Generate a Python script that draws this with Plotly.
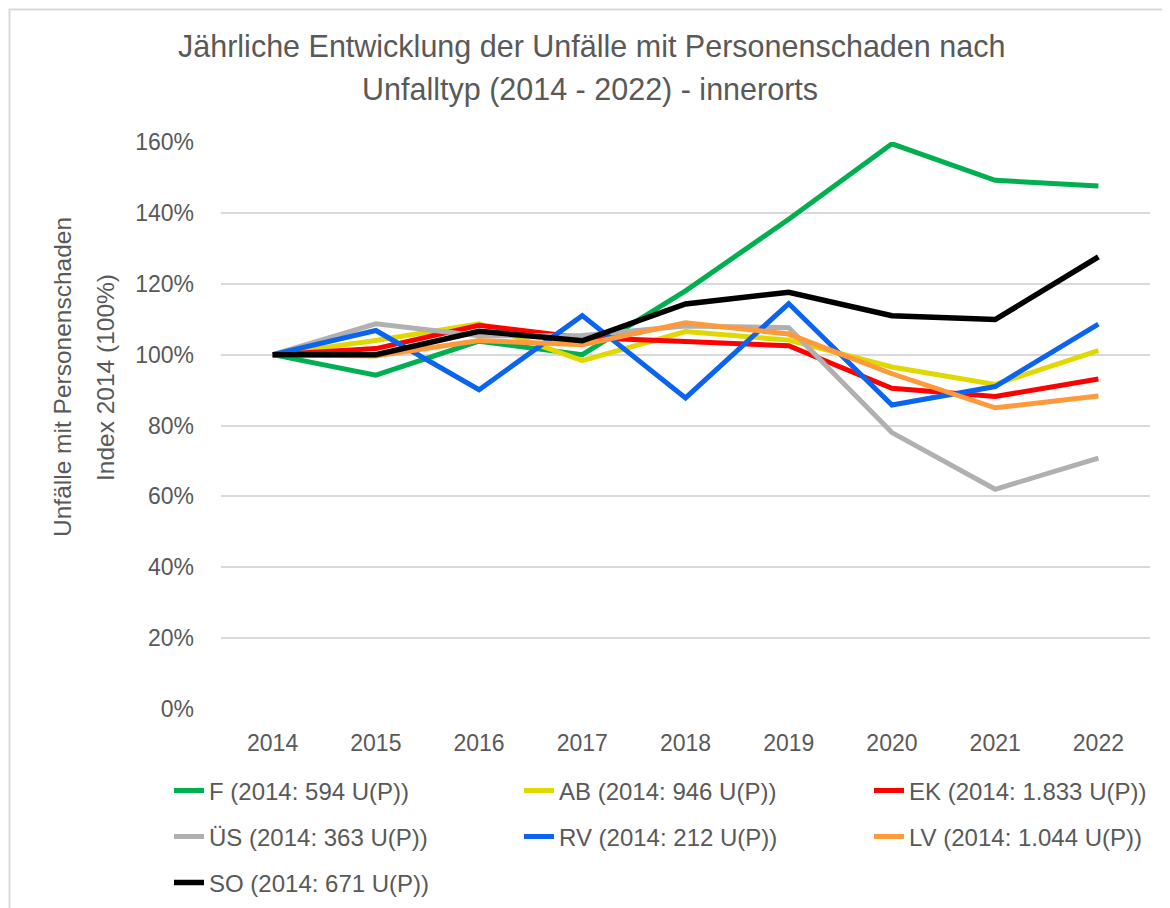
import plotly.graph_objects as go

years = ["2014", "2015", "2016", "2017", "2018", "2019", "2020", "2021", "2022"]

series_names = [
    "F (2014: 594 U(P))",
    "AB (2014: 946 U(P))",
    "EK (2014: 1.833 U(P))",
    "ÜS (2014: 363 U(P))",
    "RV (2014: 212 U(P))",
    "LV (2014: 1.044 U(P))",
    "SO (2014: 671 U(P))",
]

F_vals = [100, 94.2, 103.8, 100.0, 118.0, 138.2, 159.5, 149.2, 147.6]
AB_vals = [100, 104.0, 108.7, 98.3, 106.5, 104.1, 96.5, 91.6, 101.1]
EK_vals = [100, 101.7, 108.3, 104.8, 103.7, 102.5, 90.5, 88.2, 93.1]
US_vals = [100, 108.7, 105.3, 105.4, 108.1, 107.6, 78.0, 62.0, 70.8]
RV_vals = [100, 106.8, 90.1, 111.0, 87.8, 114.4, 85.8, 91.0, 108.6]
LV_vals = [100, 99.6, 104.0, 102.8, 109.0, 105.8, 94.6, 85.0, 88.3]
SO_vals = [100, 100.0, 106.6, 103.9, 114.3, 117.6, 111.0, 109.9, 127.6]

colors = ["#00B050", "#E0D800", "#FF0000", "#B0B0B0", "#0A64F0", "#FF9A3C", "#000000"]
all_vals = [F_vals, AB_vals, EK_vals, US_vals, RV_vals, LV_vals, SO_vals]
legend_ids = ["legend", "legend", "legend", "legend2", "legend2", "legend2", "legend3"]

# page offset of the figure (default body margin)
OFF = 8
W, H = 1162, 900
# plot area in page pixels: x 221..1150, y 142..709
L = 221 - OFF
T = 142 - OFF
R = W - (1150 - OFF)
B = H - (709 - OFF)
PW = W - L - R
PH = H - T - B

def px_x(px):
    return (px - OFF - L) / PW

def px_y(py):
    return (H - B - (py - OFF)) / PH

TXT = "#595959"
REG = "Liberation Sans, Arial, sans-serif"

fig = go.Figure()
for name, vals, col, lg in zip(series_names, all_vals, colors, legend_ids):
    fig.add_trace(go.Scatter(
        x=years, y=vals, mode="lines", name=name,
        line=dict(color=col, width=5.5 if col == "#000000" else 5),
        legend=lg,
    ))

leg_common = dict(
    orientation="h", entrywidth=305, entrywidthmode="pixels",
    font=dict(family=REG, size=24, color=TXT),
    xanchor="left", yanchor="middle", bgcolor="rgba(0,0,0,0)",
    tracegroupgap=0, itemwidth=30,
)

fig.update_layout(
    width=W, height=H,
    margin=dict(l=L, r=R, t=T, b=B, autoexpand=False),
    paper_bgcolor="white", plot_bgcolor="white",
    showlegend=True,
    legend=dict(x=px_x(169), y=px_y(791), **leg_common),
    legend2=dict(x=px_x(169), y=px_y(837), **leg_common),
    legend3=dict(x=px_x(169), y=px_y(883), **leg_common),
    xaxis=dict(
        type="category", range=[-0.5, 8.5],
        showgrid=False, showline=False, zeroline=False,
        tickfont=dict(family=REG, size=23, color=TXT),
        ticks="", ticklabelstandoff=18,
        automargin=False,
    ),
    yaxis=dict(
        range=[0, 160], dtick=20, ticksuffix="%",
        showgrid=True, gridcolor="#D9D9D9", gridwidth=1.5,
        zeroline=False, showline=False,
        tickfont=dict(family=REG, size=23, color=TXT),
        ticks="", ticklabelstandoff=26,
        automargin=False,
    ),
    annotations=[
        dict(text="Jährliche Entwicklung der Unfälle mit Personenschaden nach",
             xref="paper", yref="paper", x=px_x(591), y=px_y(47),
             xanchor="center", yanchor="middle", showarrow=False,
             font=dict(family=REG, size=30.5, color=TXT)),
        dict(text="Unfalltyp (2014 - 2022) - innerorts",
             xref="paper", yref="paper", x=px_x(590), y=px_y(89),
             xanchor="center", yanchor="middle", showarrow=False,
             font=dict(family=REG, size=30.5, color=TXT)),
        dict(text="Unfälle mit Personenschaden",
             xref="paper", yref="paper", x=px_x(62), y=px_y(377),
             xanchor="center", yanchor="middle", showarrow=False, textangle=-90,
             font=dict(family=REG, size=24.5, color=TXT)),
        dict(text="Index 2014 (100%)",
             xref="paper", yref="paper", x=px_x(105), y=px_y(378),
             xanchor="center", yanchor="middle", showarrow=False, textangle=-90,
             font=dict(family=REG, size=24.5, color=TXT)),
    ],
    shapes=[
        dict(type="rect", xref="paper", yref="paper",
             x0=px_x(9.5), x1=px_x(1185), y0=px_y(925), y1=px_y(9.5),
             line=dict(color="#D9D9D9", width=2), fillcolor="rgba(0,0,0,0)",
             layer="above"),
    ],
)

fig.write_html("out.html")
